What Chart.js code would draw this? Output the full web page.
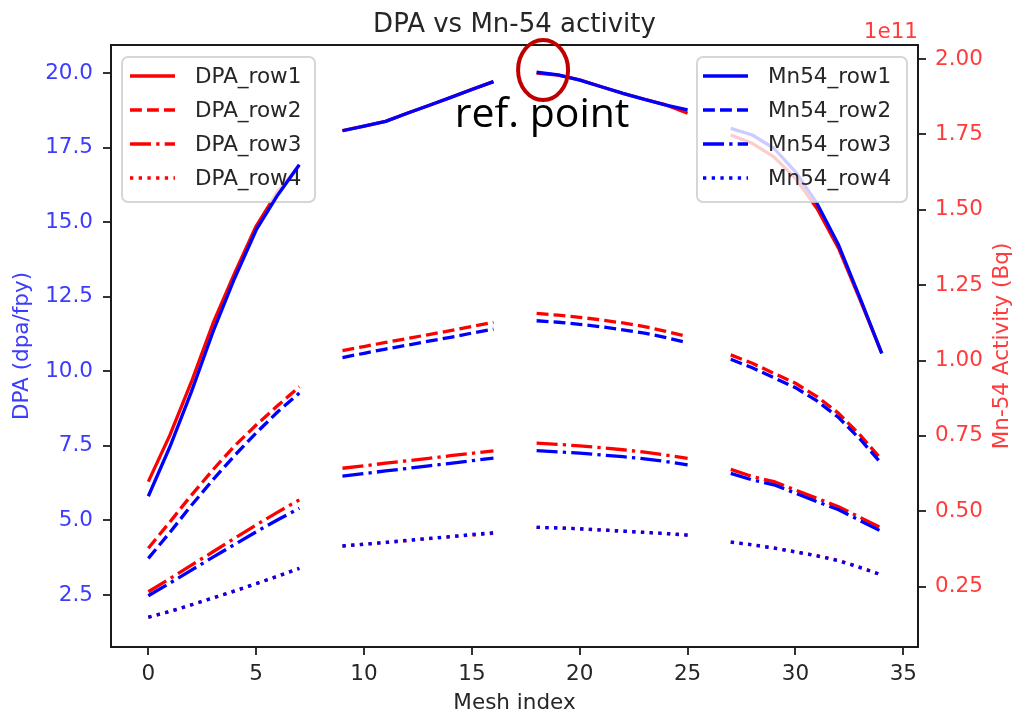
<!DOCTYPE html>
<html>
<head>
<meta charset="utf-8">
<script src="https://cdn.jsdelivr.net/npm/chart.js@4/dist/chart.umd.min.js"></script>
<style>
  html, body { margin: 0; padding: 0; background: #fff; }
  canvas { display: block; }
</style>
</head>
<body>
<canvas id="dpaChart" width="1015" height="714"></canvas>
<script>
(() => {
  // ---- DATA ----
  const meshIndex = [0,1,2,3,4,5,6,7,8,9,10,11,12,13,14,15,16,17,18,19,20,21,22,23,24,25,26,27,28,29,30,31,32,33,34];

  // DPA (dpa/fpy), gaps at 8, 17, 26
  const dpaRow1 = [6.30, 7.86, 9.65, 11.61, 13.29, 14.87, 16.03, 16.92, null, 18.07, 18.22, 18.38, 18.65, 18.91, 19.18, 19.45, 19.71, null, 20.00, 19.93, 19.77, 19.54, 19.32, 19.12, 18.93, 18.65, null, 17.92, 17.64, 17.19, 16.47, 15.46, 14.12, 12.39, 10.60];
  const dpaRow2 = [4.07, 4.95, 5.85, 6.70, 7.50, 8.20, 8.85, 9.48, null, 10.69, 10.83, 10.97, 11.10, 11.23, 11.36, 11.50, 11.64, null, 11.94, 11.88, 11.81, 11.72, 11.62, 11.50, 11.34, 11.16, null, 10.55, 10.27, 9.93, 9.60, 9.15, 8.59, 7.86, 7.03];
  const dpaRow3 = [2.61, 3.05, 3.50, 3.95, 4.40, 4.85, 5.28, 5.69, null, 6.75, 6.83, 6.92, 7.00, 7.08, 7.17, 7.25, 7.33, null, 7.59, 7.55, 7.50, 7.44, 7.37, 7.29, 7.19, 7.08, null, 6.71, 6.47, 6.30, 6.02, 5.74, 5.46, 5.10, 4.74];
  const dpaRow4 = [1.75, 1.95, 2.17, 2.40, 2.63, 2.88, 3.13, 3.39, null, 4.14, 4.20, 4.26, 4.32, 4.39, 4.45, 4.51, 4.57, null, 4.77, 4.75, 4.72, 4.68, 4.64, 4.60, 4.56, 4.51, null, 4.27, 4.18, 4.08, 3.94, 3.82, 3.66, 3.43, 3.17];

  // Mn-54 activity, in units of 1e11 Bq
  const mn54Row1 = [0.550, 0.714, 0.897, 1.096, 1.273, 1.433, 1.549, 1.649, null, 1.762, 1.777, 1.793, 1.820, 1.846, 1.872, 1.899, 1.925, null, 1.956, 1.947, 1.930, 1.908, 1.886, 1.866, 1.847, 1.831, null, 1.770, 1.748, 1.704, 1.626, 1.521, 1.383, 1.206, 1.024];
  const mn54Row2 = [0.344, 0.430, 0.520, 0.605, 0.685, 0.760, 0.830, 0.892, null, 1.010, 1.024, 1.038, 1.051, 1.064, 1.077, 1.091, 1.104, null, 1.132, 1.127, 1.120, 1.112, 1.102, 1.091, 1.076, 1.059, null, 1.004, 0.976, 0.943, 0.910, 0.866, 0.811, 0.739, 0.657];
  const mn54Row3 = [0.220, 0.262, 0.305, 0.348, 0.390, 0.432, 0.472, 0.510, null, 0.617, 0.625, 0.634, 0.642, 0.651, 0.659, 0.668, 0.676, null, 0.701, 0.697, 0.693, 0.687, 0.681, 0.674, 0.665, 0.654, null, 0.626, 0.604, 0.588, 0.560, 0.532, 0.505, 0.469, 0.433];
  const mn54Row4 = [0.149, 0.168, 0.190, 0.213, 0.236, 0.260, 0.285, 0.311, null, 0.385, 0.391, 0.397, 0.404, 0.410, 0.416, 0.423, 0.429, null, 0.447, 0.445, 0.442, 0.438, 0.434, 0.430, 0.426, 0.421, null, 0.398, 0.389, 0.378, 0.366, 0.352, 0.336, 0.313, 0.289];

  const xTicks = [0, 5, 10, 15, 20, 25, 30, 35];
  const dpaTicks = [2.5, 5.0, 7.5, 10.0, 12.5, 15.0, 17.5, 20.0];
  const actTicks = [0.25, 0.50, 0.75, 1.00, 1.25, 1.50, 1.75, 2.00];

  const dpaLabels = ["DPA_row1", "DPA_row2", "DPA_row3", "DPA_row4"];
  const mnLabels = ["Mn54_row1", "Mn54_row2", "Mn54_row3", "Mn54_row4"];

  // ---- STYLE ----
  const FONT = "'DejaVu Sans', sans-serif";
  const LW = 3.3;
  const dashes = [[], [11.9, 5.1], [21, 5.2, 3.3, 5.2], [3.3, 5.4]];
  const RED = "#ff0000";
  const BLUE = "#0000ff";
  const RED_TXT = "#ff3c3c";
  const BLUE_TXT = "#3c3cff";
  const DARK = "#262626";

  function makeSet(label, arr, color, dash, axis, order) {
    return {
      label,
      data: meshIndex.map((x, i) => ({ x, y: arr[i] })),
      borderColor: color,
      borderWidth: LW,
      borderDash: dash,
      borderCapStyle: "butt",
      borderJoinStyle: "round",
      pointRadius: 0,
      tension: 0,
      spanGaps: false,
      fill: false,
      yAxisID: axis,
      order
    };
  }

  const dpaSeries = [dpaRow1, dpaRow2, dpaRow3, dpaRow4];
  const mnSeries = [mn54Row1, mn54Row2, mn54Row3, mn54Row4];

  const datasets = [];
  dpaSeries.forEach((arr, i) => datasets.push(makeSet(dpaLabels[i], arr, RED, dashes[i], "y", 2)));
  mnSeries.forEach((arr, i) => datasets.push(makeSet(mnLabels[i], arr, BLUE, dashes[i], "y2", 1)));

  // ---- LEGEND DRAWING ----
  function drawLegend(ctx, box, labels, color) {
    ctx.save();
    ctx.beginPath();
    ctx.roundRect(box.x, box.y, box.w, box.h, 6);
    ctx.fillStyle = "rgba(255,255,255,0.8)";
    ctx.fill();
    ctx.lineWidth = 2;
    ctx.strokeStyle = "rgba(204,204,204,0.8)";
    ctx.stroke();
    labels.forEach((lab, i) => {
      const cy = box.y + 19 + i * 34;
      ctx.beginPath();
      ctx.setLineDash(dashes[i]);
      ctx.lineCap = "butt";
      ctx.lineWidth = LW;
      ctx.strokeStyle = color;
      ctx.moveTo(box.x + box.lineX, cy);
      ctx.lineTo(box.x + box.lineX + 45, cy);
      ctx.stroke();
      ctx.setLineDash([]);
      ctx.fillStyle = DARK;
      ctx.font = "21.5px " + FONT;
      ctx.textBaseline = "middle";
      ctx.textAlign = "left";
      ctx.fillText(lab, box.x + box.textX, cy + 1);
    });
    ctx.restore();
  }

  let leftLegendDone = false;

  const legendsPlugin = {
    id: "legendsPlugin",
    beforeDatasetsDraw() { leftLegendDone = false; },
    beforeDatasetDraw(chart, args) {
      // ax1 legend sits under the ax2 lines
      if (!leftLegendDone && args.meta.yAxisID === "y2") {
        drawLegend(chart.ctx, { x: 122, y: 57, w: 193, h: 145, lineX: 8, textX: 73 }, dpaLabels, RED);
        leftLegendDone = true;
      }
    },
    afterDatasetsDraw(chart) {
      drawLegend(chart.ctx, { x: 697, y: 57, w: 210, h: 145, lineX: 6, textX: 71 }, mnLabels, BLUE);
    }
  };

  // ---- FRAME, TITLES, ANNOTATION ----
  const decorPlugin = {
    id: "decorPlugin",
    afterDraw(chart) {
      const { ctx, chartArea, scales } = chart;
      const midX = (chartArea.left + chartArea.right) / 2;
      const midY = (chartArea.top + chartArea.bottom) / 2;
      ctx.save();

      // frame
      ctx.lineWidth = 2;
      ctx.strokeStyle = "#1a1a1a";
      ctx.strokeRect(chartArea.left, chartArea.top, chartArea.right - chartArea.left, chartArea.bottom - chartArea.top);

      // title
      ctx.fillStyle = DARK;
      ctx.font = "26px " + FONT;
      ctx.textAlign = "center";
      ctx.textBaseline = "alphabetic";
      ctx.fillText("DPA vs Mn-54 activity", midX, 32);

      // x label
      ctx.font = "21.5px " + FONT;
      ctx.fillText("Mesh index", midX, 709);

      // offset text
      ctx.fillStyle = RED_TXT;
      ctx.textAlign = "right";
      ctx.fillText("1e11", chartArea.right, 38);

      // y labels
      ctx.textAlign = "center";
      ctx.fillStyle = BLUE_TXT;
      ctx.save();
      ctx.translate(22, midY);
      ctx.rotate(-Math.PI / 2);
      ctx.textBaseline = "middle";
      ctx.fillText("DPA (dpa/fpy)", 0, 0);
      ctx.restore();

      ctx.fillStyle = RED_TXT;
      ctx.save();
      ctx.translate(1002, midY);
      ctx.rotate(-Math.PI / 2);
      ctx.textBaseline = "middle";
      ctx.fillText("Mn-54 Activity (Bq)", 0, 0);
      ctx.restore();

      // reference point annotation
      const ex = scales.x.getPixelForValue(18.3);
      const ey = scales.y.getPixelForValue(20.1);
      ctx.beginPath();
      ctx.ellipse(ex, ey, 25, 30, 0, 0, Math.PI * 2);
      ctx.lineWidth = 4;
      ctx.strokeStyle = "#c00000";
      ctx.stroke();

      ctx.fillStyle = "#000";
      ctx.font = "41px 'Open Sans', sans-serif";
      ctx.textAlign = "left";
      ctx.textBaseline = "alphabetic";
      ctx.fillText("ref. point", scales.x.getPixelForValue(14.2), scales.y.getPixelForValue(18.2));

      ctx.restore();
    }
  };

  const tickGrid = {
    drawOnChartArea: false,
    drawTicks: true,
    tickLength: 8,
    lineWidth: 2,
    color: "#333"
  };

  new Chart(document.getElementById("dpaChart"), {
    type: "line",
    data: { datasets },
    options: {
      responsive: false,
      animation: false,
      events: [],
      layout: { padding: { top: 45, left: 0, right: 0, bottom: 0 } },
      plugins: {
        legend: { display: false },
        tooltip: { enabled: false },
        title: { display: false }
      },
      scales: {
        x: {
          type: "linear",
          min: -1.73,
          max: 35.68,
          afterBuildTicks: s => { s.ticks = xTicks.map(v => ({ value: v })); },
          afterFit: s => { s.height = 67; },
          grid: tickGrid,
          border: { display: false },
          ticks: {
            color: DARK,
            font: { family: FONT, size: 21.5 },
            padding: 7,
            maxRotation: 0,
            callback: v => String(v)
          }
        },
        y: {
          position: "left",
          min: 0.757,
          max: 20.939,
          afterBuildTicks: s => { s.ticks = dpaTicks.map(v => ({ value: v })); },
          afterFit: s => { s.width = 111; },
          grid: tickGrid,
          border: { display: false },
          ticks: {
            color: BLUE_TXT,
            font: { family: FONT, size: 21.5 },
            padding: 10,
            callback: v => v.toFixed(1)
          }
        },
        y2: {
          position: "right",
          min: 0.05,
          max: 2.0464,
          afterBuildTicks: s => { s.ticks = actTicks.map(v => ({ value: v })); },
          afterFit: s => { s.width = 97; },
          grid: tickGrid,
          border: { display: false },
          ticks: {
            color: RED_TXT,
            font: { family: FONT, size: 21.5 },
            padding: 9,
            callback: v => v.toFixed(2)
          }
        }
      }
    },
    plugins: [legendsPlugin, decorPlugin]
  });
})();
</script>
</body>
</html>
